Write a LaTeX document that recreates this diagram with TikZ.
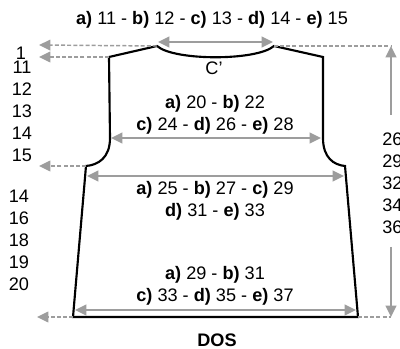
\documentclass[tikz,border=0pt]{standalone}
\usepackage{fontspec}
\setmainfont{Liberation Sans}
\usetikzlibrary{arrows.meta}
\definecolor{gris}{HTML}{9D9D9D}
\tikzset{
	>={Triangle[length=8.5pt,width=8pt]},
	patron/.style={black, line width=1.6pt, line join=miter},
	mesure/.style={gris, line width=1.5pt},
	guide/.style={gris, line width=1.1pt, dash pattern=on 3pt off 1.6pt},
	cote/.style={align=center, inner sep=0pt},
	colonne/.style={align=left, inner sep=0pt}
}

\begin{document}
\begin{tikzpicture}[x=0.75pt, y=-0.75pt, font=\fontsize{13.6pt}{16.5pt}\selectfont]
		\useasboundingbox (0,0) rectangle (400,349);
		% contour du dos
		\coordinate (encolG) at (157,46);
		\coordinate (encolD) at (274,46);
		\coordinate (epauleG) at (109,57);
		\coordinate (epauleD) at (323,57);
		\coordinate (emmG) at (110,138);
		\coordinate (emmD) at (323,138);
		\coordinate (dessousG) at (86,166);
		\coordinate (dessousD) at (345,166);
		\coordinate (basG) at (73,317);
		\coordinate (basD) at (358,317);
		\draw[patron] (basG) -- (dessousG) .. controls (98,165) and (110,158) .. (emmG) -- (epauleG) -- (encolG) .. controls (174,61) and (257,61) .. (encolD) -- (epauleD) -- (emmD) .. controls (323,158) and (334,165) .. (dessousD) -- (basD) -- cycle;
		% reperes
		\coordinate (repA) at (39,45);
		\coordinate (repB) at (39,57);
		\coordinate (repC) at (39,166);
		\coordinate (repD) at (37,317);
		\coordinate (hautD) at (391,46);
		\coordinate (basDr) at (391,317);
		\draw[guide,->] (encolG) -- (repA);
		\draw[guide,->] (epauleG) -- (repB);
		\draw[guide,->] (dessousG) -- (repC);
		\draw[guide,->] (basG) -- (repD);
		\draw[guide] (encolD) -- (hautD);
		\draw[guide] (basD) -- (basDr);
		\coordinate (hautM) at (391,115);
		\coordinate (basM) at (391,247);
		\draw[mesure,->] (hautM) -- (hautD);
		\draw[mesure,->] (basM) -- (basDr);
		% largeurs
		\coordinate (colG) at (158,42);
		\coordinate (colD) at (273,42);
		\coordinate (dosG) at (111,138);
		\coordinate (dosD) at (321,138);
		\coordinate (poitG) at (87,176);
		\coordinate (poitD) at (344,176);
		\coordinate (tailG) at (75,310);
		\coordinate (tailD) at (356,310);
		\draw[mesure,<->] (colG) -- (colD);
		\draw[mesure,<->] (dosG) -- (dosD);
		\draw[mesure,<->] (poitG) -- (poitD);
		\draw[mesure,<->] (tailG) -- (tailD);
		% textes
		\node[cote] (tcol) at (212,20) {\textbf{a)} 11 - \textbf{b)} 12 - \textbf{c)} 13 - \textbf{d)} 14 - \textbf{e)} 15};
		\node[cote] (tC) at (214,68) {C'};
		\node[cote] (tdos) at (215,114.5) {\textbf{a)} 20 - \textbf{b)} 22\\\textbf{c)} 24 - \textbf{d)} 26 - \textbf{e)} 28};
		\node[cote] (tpoit) at (215,200.5) {\textbf{a)} 25 - \textbf{b)} 27 - \textbf{c)} 29\\\textbf{d)} 31 - \textbf{e)} 33};
		\node[cote] (ttail) at (215,286) {\textbf{a)} 29 - \textbf{b)} 31\\\textbf{c)} 33 - \textbf{d)} 35 - \textbf{e)} 37};
		\node[cote] (titre) at (217,340) {\textbf{DOS}};
		\node[cote] (hA) at (21,53) {1};
		\node[cote] (hB) at (22,111) {11\\12\\13\\14\\15};
		\node[cote] (hC) at (19,240) {14\\16\\18\\19\\20};
		\node[colonne, anchor=west] (hT) at (382,183) {26\\29\\32\\34\\36};
	\end{tikzpicture}
\end{document}
